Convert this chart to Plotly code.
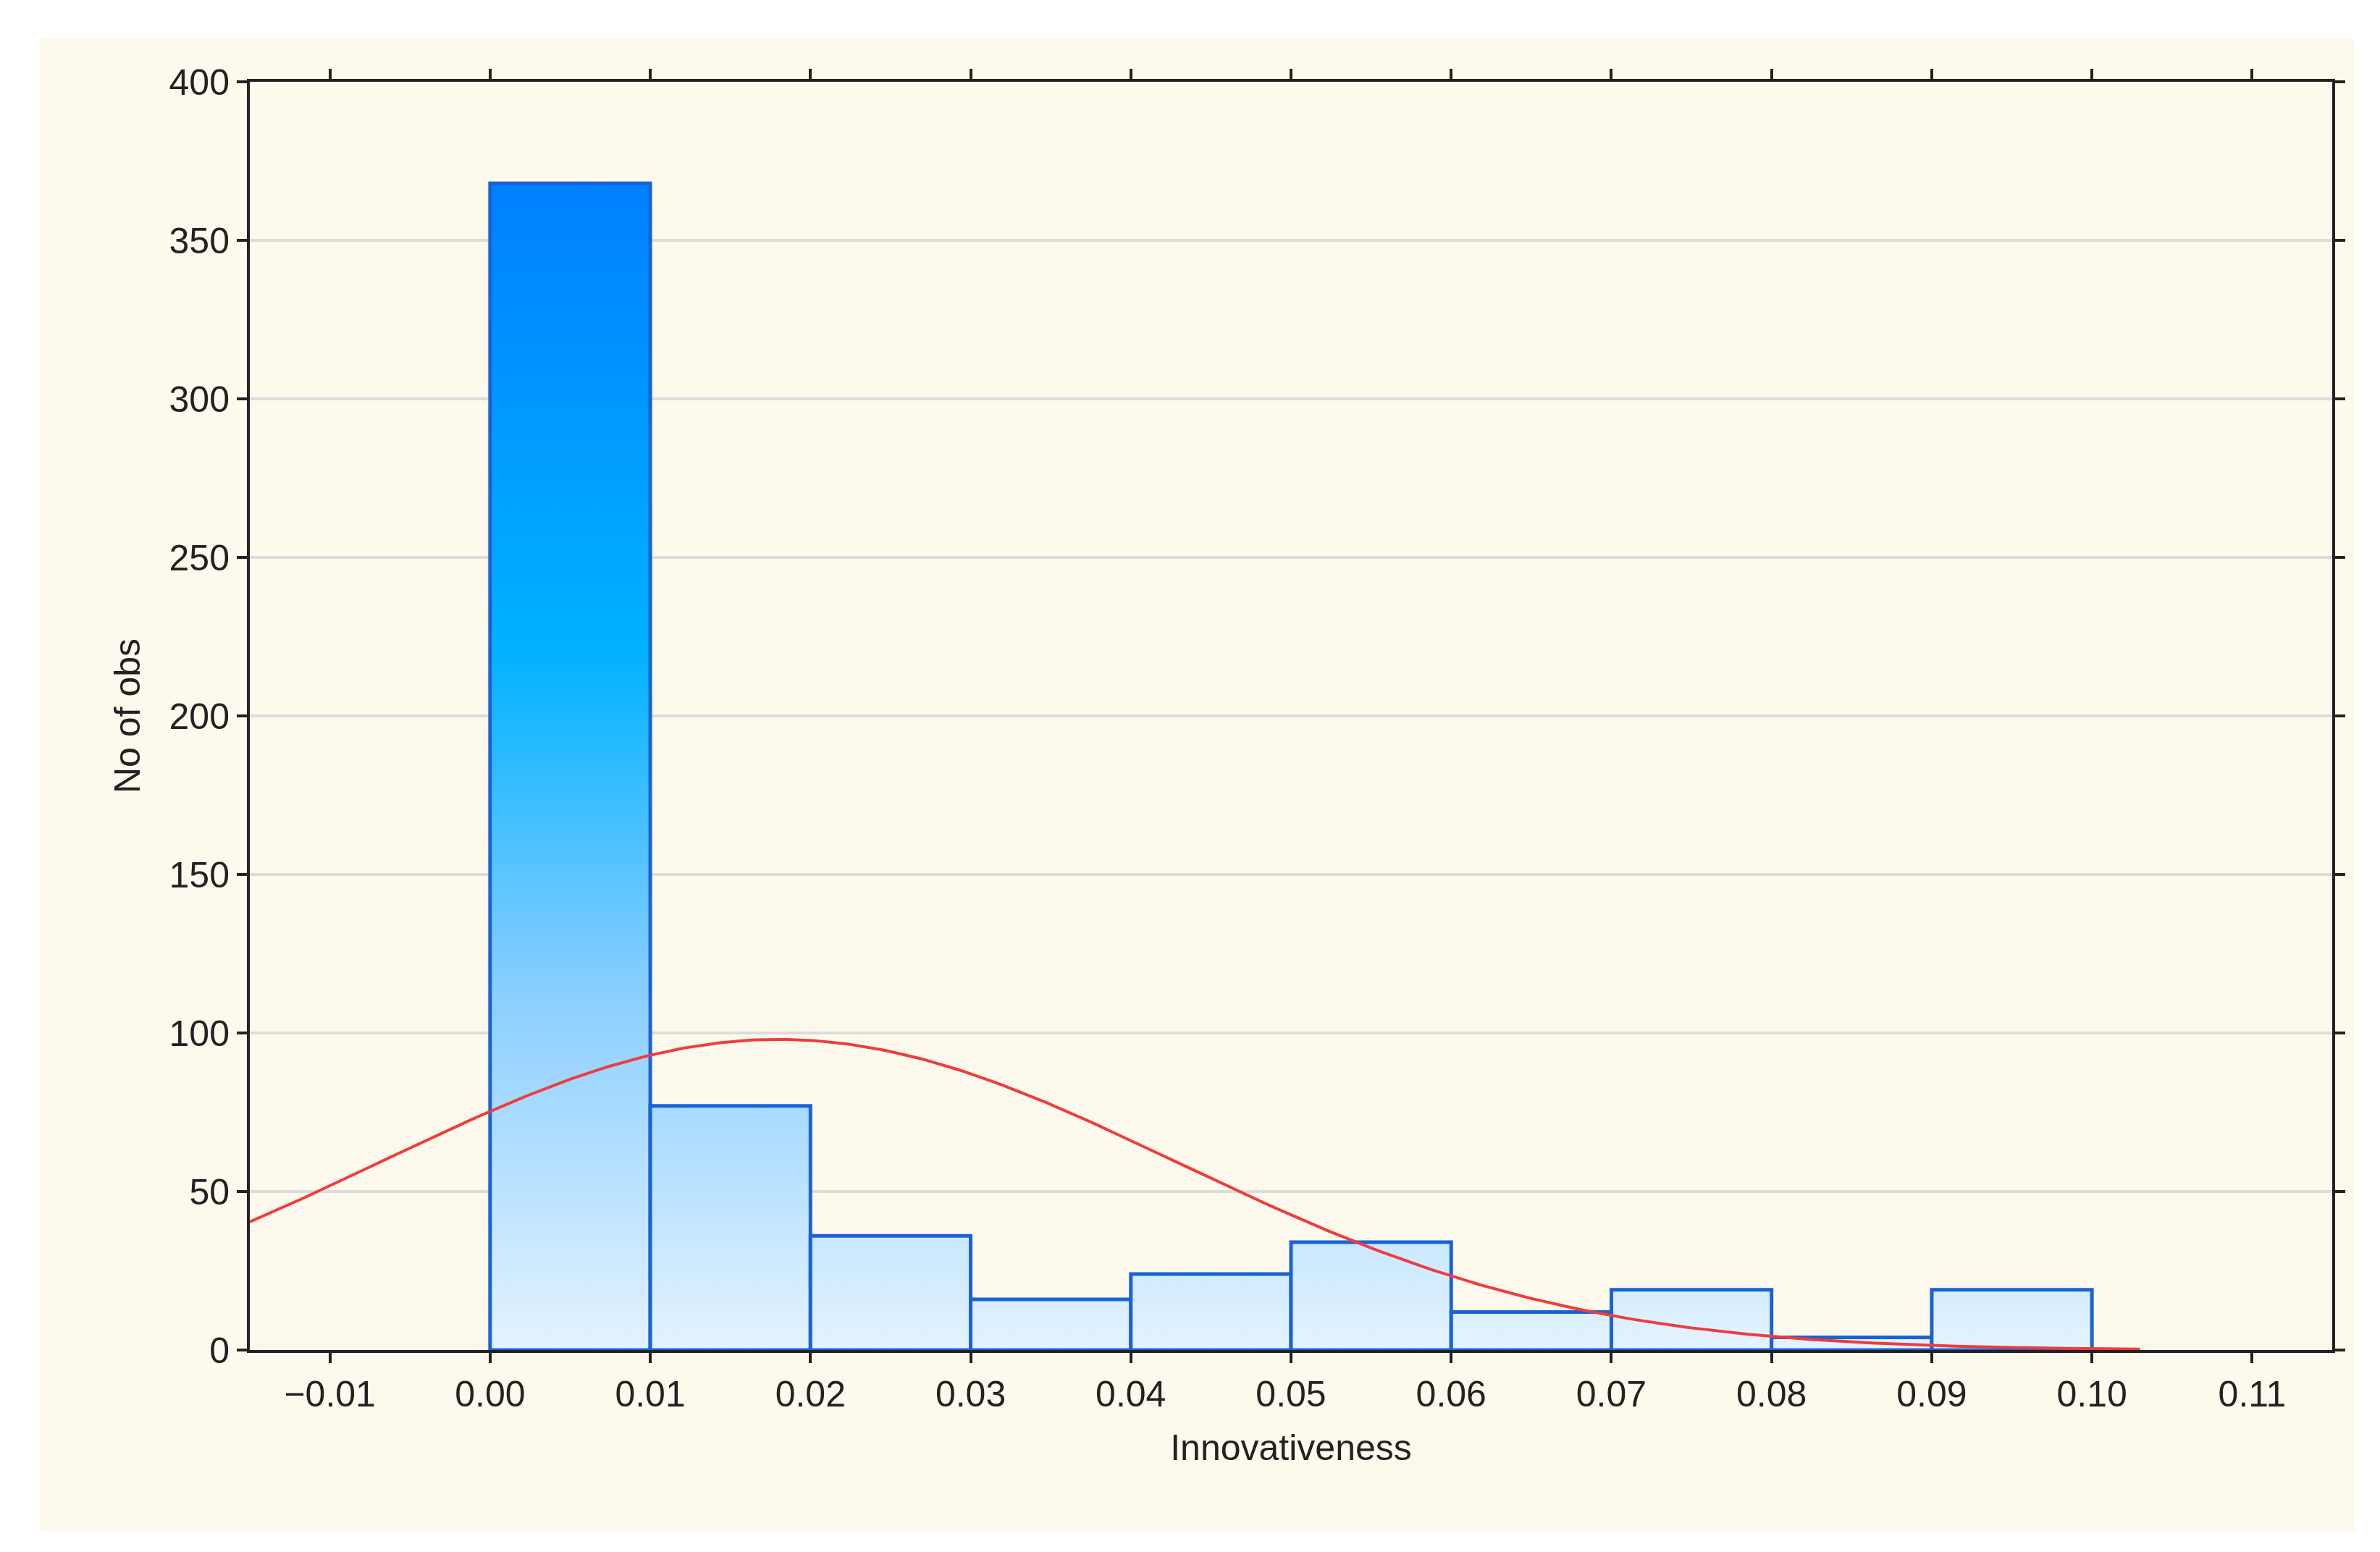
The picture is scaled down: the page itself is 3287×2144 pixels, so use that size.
import numpy as np
import plotly.graph_objects as go

bin_left = [0.00, 0.01, 0.02, 0.03, 0.04, 0.05, 0.06, 0.07, 0.08, 0.09]
counts = [368, 77, 36, 16, 24, 34, 12, 19, 4, 19]
bin_width = 0.01
fit_mean, fit_sd, fit_n = 0.018, 0.0248, 609
x_ticks = [-0.01, 0.00, 0.01, 0.02, 0.03, 0.04, 0.05, 0.06, 0.07, 0.08, 0.09, 0.10, 0.11]
x_ticklabels = ["\u22120.01"] + ["%.2f" % v for v in x_ticks[1:]]

fig = go.Figure()
cs = [[0, "#e4f3ff"], [0.3, "#8ccfff"], [0.6, "#00b2ff"], [1, "#0080ff"]]
for x0, c in zip(bin_left, counts):
    x1 = x0 + bin_width
    fig.add_trace(go.Scatter(
        x=[x0, x0, x1, x1, x0], y=[0, c, c, 0, 0], mode="lines", fill="toself",
        line=dict(color="#1a62d6", width=5),
        fillgradient=dict(type="vertical", colorscale=cs, start=0, stop=368),
        showlegend=False, hoverinfo="skip"))

xc = np.linspace(-0.015, 0.103, 300)
yc = fit_n * bin_width / (fit_sd * np.sqrt(2 * np.pi)) * np.exp(-0.5 * ((xc - fit_mean) / fit_sd) ** 2)
fig.add_trace(go.Scatter(x=xc, y=yc, mode="lines", line=dict(color="#f03c3c", width=4),
                         showlegend=False, hoverinfo="skip"))

font = dict(family="Liberation Sans, Arial", size=50, color="#222")
fig.update_layout(
    width=3287, height=2144, paper_bgcolor="white", plot_bgcolor="white",
    margin=dict(l=337, r=74, t=105, b=287), font=font,
    shapes=[dict(type="rect", xref="paper", yref="paper", x0=-0.101, x1=1.011,
                 y0=-0.143, y1=1.034, fillcolor="#fdf9ec", line_width=0, layer="below")],
    xaxis=dict(range=[-0.015, 0.115], tickvals=x_ticks, ticktext=x_ticklabels,
               showgrid=False, zeroline=False, showline=True, linecolor="#222", linewidth=4,
               mirror="ticks", ticks="outside", ticklen=14, tickwidth=4, tickcolor="#222",
               title=dict(text="Innovativeness", font=font, standoff=30)),
    yaxis=dict(range=[0, 400], dtick=50, showgrid=True, gridcolor="#dcdcdc", gridwidth=4,
               zeroline=False, showline=True, linecolor="#222", linewidth=4,
               mirror="ticks", ticks="outside", ticklen=14, tickwidth=4, tickcolor="#222",
               title=dict(text="No of obs", font=font, standoff=25)),
)
fig.write_html("out.html")
